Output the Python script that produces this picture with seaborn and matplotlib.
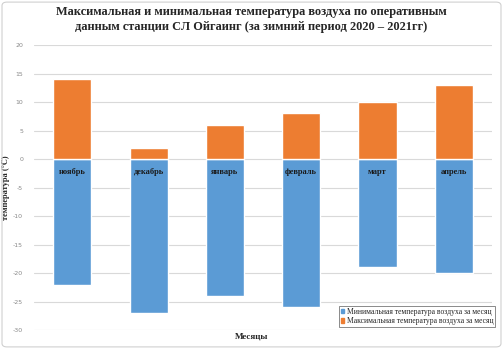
import matplotlib
matplotlib.use("Agg")
import matplotlib.pyplot as plt
import pandas as pd
import seaborn as sns
from matplotlib.patches import Patch, FancyBboxPatch

# Monthly temperatures
months = ['ноябрь', 'декабрь', 'январь', 'февраль', 'март', 'апрель']
t_min = [-22, -27, -24, -26, -19, -20]
t_max = [14, 2, 6, 8, 10, 13]
y_ticks = [20, 15, 10, 5, 0, -5, -10, -15, -20, -25, -30]

blue = '#5B9BD5'
orange = '#ED7D31'

df = pd.DataFrame({'Месяц': months, 'min': t_min, 'max': t_max})

sns.set_style('white')
plt.rcParams['font.family'] = ['Liberation Serif', 'DejaVu Serif']

fig = plt.figure(figsize=(5.03, 3.49), dpi=100)
ax = fig.add_axes([0.068, 0.054, 0.91, 0.817])

sns.barplot(data=df, x='Месяц', y='min', color=blue, saturation=1, width=0.5,
            ax=ax, zorder=3)
sns.barplot(data=df, x='Месяц', y='max', color=orange, saturation=1, width=0.5,
            ax=ax, zorder=3)

ax.set_ylim(-30, 20)
ax.set_yticks(y_ticks)
ax.set_yticklabels([str(v) for v in y_ticks], fontsize=4.5, color='#888888',
                   family=['DejaVu Sans'])
ax.tick_params(axis='y', length=0, pad=8)
ax.set_xticks([])
ax.set_xlim(-0.5, 5.5)
ax.grid(axis='y', color='#d9d9d9', linewidth=0.8, zorder=0)
for s in ax.spines.values():
    s.set_visible(False)

for i, m in enumerate(months):
    ax.text(i, -2.2, m, ha='center', va='center', fontsize=6, fontweight='bold',
            color='#1a1a1a', zorder=4)

ax.set_ylabel('температура (°С)', fontsize=6, fontweight='bold', labelpad=2)
ax.set_xlabel('')
fig.text(0.5, 0.035, 'Месяцы', ha='center', va='center', fontsize=6.5, fontweight='bold')

fig.text(0.5, 0.945, 'Максимальная и минимальная температура воздуха по оперативным\n'
         'данным станции СЛ Ойгаинг (за зимний период 2020 – 2021гг)',
         ha='center', va='center', fontsize=8.9, fontweight='bold', linespacing=1.3)

handles = [Patch(color=blue, label='Минимальная температура воздуха за месяц'),
           Patch(color=orange, label='Максимальная температура воздуха за месяц')]
leg = fig.legend(handles=handles, loc='lower right', bbox_to_anchor=(0.992, 0.052),
                 fontsize=5.5, frameon=True, fancybox=False, handlelength=0.5,
                 handleheight=0.5, handletextpad=0.3, borderpad=0.25, labelspacing=0.15)
leg.get_frame().set_edgecolor('#555555')
leg.get_frame().set_linewidth(0.6)

fig.patches.append(FancyBboxPatch((0.004, 0.006), 0.992, 0.988, transform=fig.transFigure,
                                  boxstyle='round,pad=0,rounding_size=0.01',
                                  fill=False, edgecolor='#d0d0d0', linewidth=0.8))

fig.savefig('out.png', dpi=100)
